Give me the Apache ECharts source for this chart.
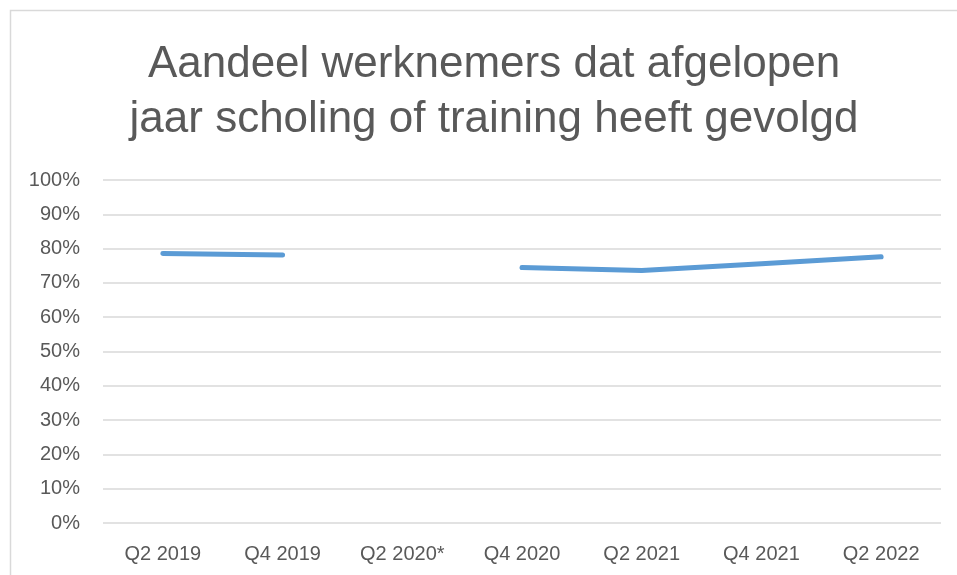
<!DOCTYPE html>
<html>
<head>
<meta charset="utf-8">
<script src="https://cdn.jsdelivr.net/npm/echarts@6/dist/echarts.min.js"></script>
<style>
  html, body { margin: 0; padding: 0; background: #fff; }
  #chart { width: 957px; height: 575px; }
</style>
</head>
<body>
<div id="chart"></div>
<script>
// kwartalen, Q2 2020 ontbreekt (geen meting)
var categories = ['Q2 2019', 'Q4 2019', 'Q2 2020*', 'Q4 2020', 'Q2 2021', 'Q4 2021', 'Q2 2022'];
var aandeel = [78.6, 78.1, null, 74.5, 73.6, 75.6, 77.6];
var yTicks = [0, 10, 20, 30, 40, 50, 60, 70, 80, 90, 100];

var chart = echarts.init(document.getElementById('chart'));
var textColor = '#595959';
var fontFam = '"Liberation Sans", "Open Sans", sans-serif';

chart.setOption({
  backgroundColor: '#fff',
  animation: false,
  title: {
    text: 'Aandeel werknemers dat afgelopen\njaar scholing of training heeft gevolgd',
    left: 489,
    top: 32,
    textAlign: 'center',
    textStyle: {
      color: textColor,
      fontFamily: fontFam,
      fontWeight: 'normal',
      fontSize: 44,
      lineHeight: 55
    }
  },
  graphic: [{
    type: 'rect',
    shape: { x: 10.5, y: 10.5, width: 970, height: 600 },
    style: { fill: 'none', stroke: '#d9d9d9', lineWidth: 1.5 },
    silent: true
  }],
  grid: { left: 103, right: 16, top: 180, bottom: 52 },
  xAxis: {
    type: 'category',
    data: categories,
    boundaryGap: true,
    axisLine: { show: false },
    axisTick: { show: false },
    axisLabel: { color: textColor, fontFamily: fontFam, fontSize: 20, margin: 21 }
  },
  yAxis: {
    type: 'value',
    min: yTicks[0],
    max: yTicks[yTicks.length - 1],
    interval: 10,
    axisLine: { show: false },
    axisTick: { show: false },
    splitLine: { lineStyle: { color: '#d9d9d9', width: 1.5 } },
    axisLabel: {
      color: textColor,
      fontFamily: fontFam,
      fontSize: 20,
      margin: 23,
      formatter: function (v) { return v + '%'; }
    }
  },
  series: [{
    type: 'line',
    data: aandeel,
    connectNulls: false,
    showSymbol: false,
    symbol: 'none',
    lineStyle: { color: '#5b9bd5', width: 5, cap: 'round' },
    itemStyle: { color: '#5b9bd5' }
  }]
});
</script>
</body>
</html>
